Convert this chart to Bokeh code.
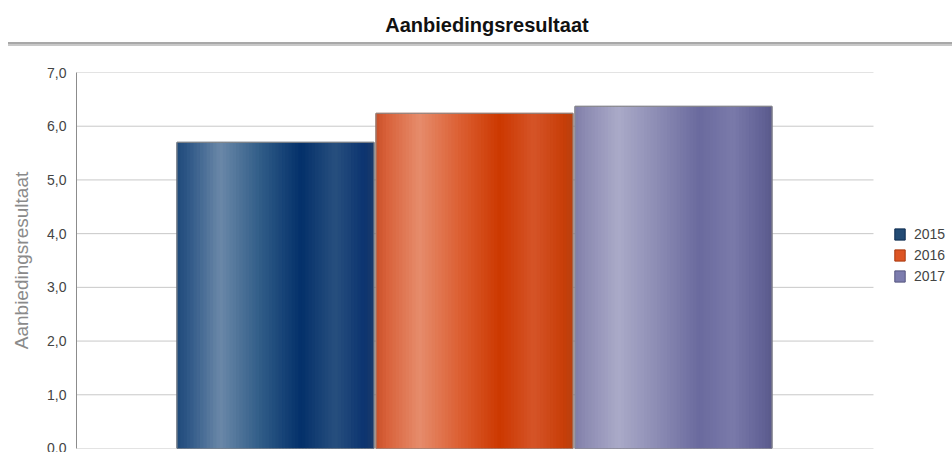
import numpy as np
from bokeh.plotting import figure
from bokeh.models import (Range1d, FixedTicker, CustomJSTickFormatter,
                          Legend, LegendItem, Div)
from bokeh.layouts import column
from bokeh.embed import file_html
from bokeh.resources import INLINE

# ---- data ----
years = ["2015", "2016", "2017"]
values = [5.70, 6.24, 6.37]
y_ticks = [0, 1, 2, 3, 4, 5, 6, 7]
title_text = "Aanbiedingsresultaat"
axis_title = "Aanbiedingsresultaat"

# ---- style ----
legend_colors = ["#234b74", "#dd5524", "#7c7cae"]
legend_lines = ["#0e2c50", "#a83a10", "#55557f"]
stops = [0.0, 0.05, 0.22, 0.42, 0.63, 0.80, 0.95, 1.0]
profiles = [
    ["#1f4a7a", "#2c5585", "#6a88a8", "#315d88", "#03306a", "#274f7e", "#0c3470", "#1a3a6a"],
    ["#c8502a", "#d86038", "#e68c6c", "#dc6034", "#cc3800", "#d55428", "#c83e08", "#b84010"],
    ["#807ea8", "#8c8ab2", "#aaaac8", "#8c8cb4", "#6a6a9e", "#7a7aaa", "#626296", "#5a5a8a"],
]
FONT = "Liberation Sans"


def hex2rgb(h):
    h = h.lstrip("#")
    return np.array([int(h[i:i + 2], 16) for i in (0, 2, 4)], dtype=float)


def shade(profile, t):
    rgb = np.array([hex2rgb(c) for c in profile])
    r = np.interp(t, stops, rgb[:, 0])
    g = np.interp(t, stops, rgb[:, 1])
    b = np.interp(t, stops, rgb[:, 2])
    return "#%02x%02x%02x" % (int(round(r)), int(round(g)), int(round(b)))


W = 952
BAR_W = 0.99
N = 60
PLOT_END = 4.005   # right end of the plotting area (gridlines stop here)
X_END = 4.402      # frame extends to the right edge to host the legend

# ---- header (title + double rule) ----
header_html = (
    '<div style="position:relative;width:952px;height:48px;overflow:hidden;">'
    '<div style="position:absolute;left:22px;width:930px;top:12px;text-align:center;'
    "font-family:'Liberation Sans';font-weight:bold;font-size:20px;line-height:26px;"
    'color:#111111;">' + title_text + '</div>'
    '<div style="position:absolute;left:8px;right:0px;top:42px;height:0px;'
    'border-top:2px solid #a8a8a8;border-bottom:2px solid #c8c8c8;"></div>'
    '</div>'
)
head = Div(text=header_html, width=W, height=48, margin=0)

# ---- main figure ----
xpos = np.arange(1, len(years) + 1, dtype=float)
p = figure(width=W, height=404, x_range=Range1d(0, X_END), y_range=Range1d(0, 7),
           output_backend="svg", toolbar_location=None,
           min_border_left=76, min_border_right=0, min_border_top=24, min_border_bottom=4,
           outline_line_color=None, margin=0)
p.xaxis.visible = False
p.xgrid.visible = False
p.ygrid.visible = False
p.yaxis.ticker = FixedTicker(ticks=y_ticks)
p.yaxis.formatter = CustomJSTickFormatter(code="return tick.toFixed(1).replace('.', ',');")
p.yaxis.axis_label = axis_title
p.yaxis.axis_label_text_font = FONT
p.yaxis.axis_label_text_font_size = "19px"
p.yaxis.axis_label_text_font_style = "normal"
p.yaxis.axis_label_text_color = "#8a8a8a"
p.yaxis.axis_label_standoff = 12
p.yaxis.major_label_text_font = FONT
p.yaxis.major_label_text_font_size = "14px"
p.yaxis.major_label_text_color = "#444444"
p.yaxis.major_label_standoff = 10
p.yaxis.major_tick_in = 0
p.yaxis.major_tick_out = 0
p.yaxis.minor_tick_line_color = None
p.yaxis.axis_line_color = "#8c8c8c"

# horizontal gridlines limited to the plotting area
p.segment(x0=0, x1=PLOT_END, y0=y_ticks, y1=y_ticks, line_color="#c8c8c8", line_width=1)

# legend carriers (solid bars, covered by shading strips)
items = []
for i, yr in enumerate(years):
    r = p.vbar(x=[xpos[i]], top=[values[i]], bottom=0, width=BAR_W,
               fill_color=legend_colors[i], line_color=legend_lines[i])
    items.append(LegendItem(label=yr, renderers=[r]))

# cylinder shading strips derived from each bar's value
for i in range(len(years)):
    t = (np.arange(N) + 0.5) / N
    left = xpos[i] - BAR_W / 2 + np.arange(N) * BAR_W / N
    right = np.minimum(left + BAR_W / N * 1.6, xpos[i] + BAR_W / 2)
    cols = [shade(profiles[i], tt) for tt in t]
    p.quad(left=left, right=right, bottom=0, top=np.full(N, values[i]),
           fill_color=cols, line_color=None)

# outline of bars
p.vbar(x=xpos, top=values, bottom=0, width=BAR_W, fill_color=None,
       line_color="#8a8a8a", line_width=1)

legend = Legend(items=items, location=(817, 164), orientation="vertical",
                padding=0, margin=0, spacing=5, glyph_width=13, glyph_height=14,
                label_height=14, label_standoff=8, label_text_font=FONT,
                label_text_font_size="14px", label_text_color="#444444",
                border_line_color=None, background_fill_alpha=0)
p.add_layout(legend, "center")

layout = column(head, p, spacing=0)
open("out.html", "w").write(file_html(layout, INLINE))
